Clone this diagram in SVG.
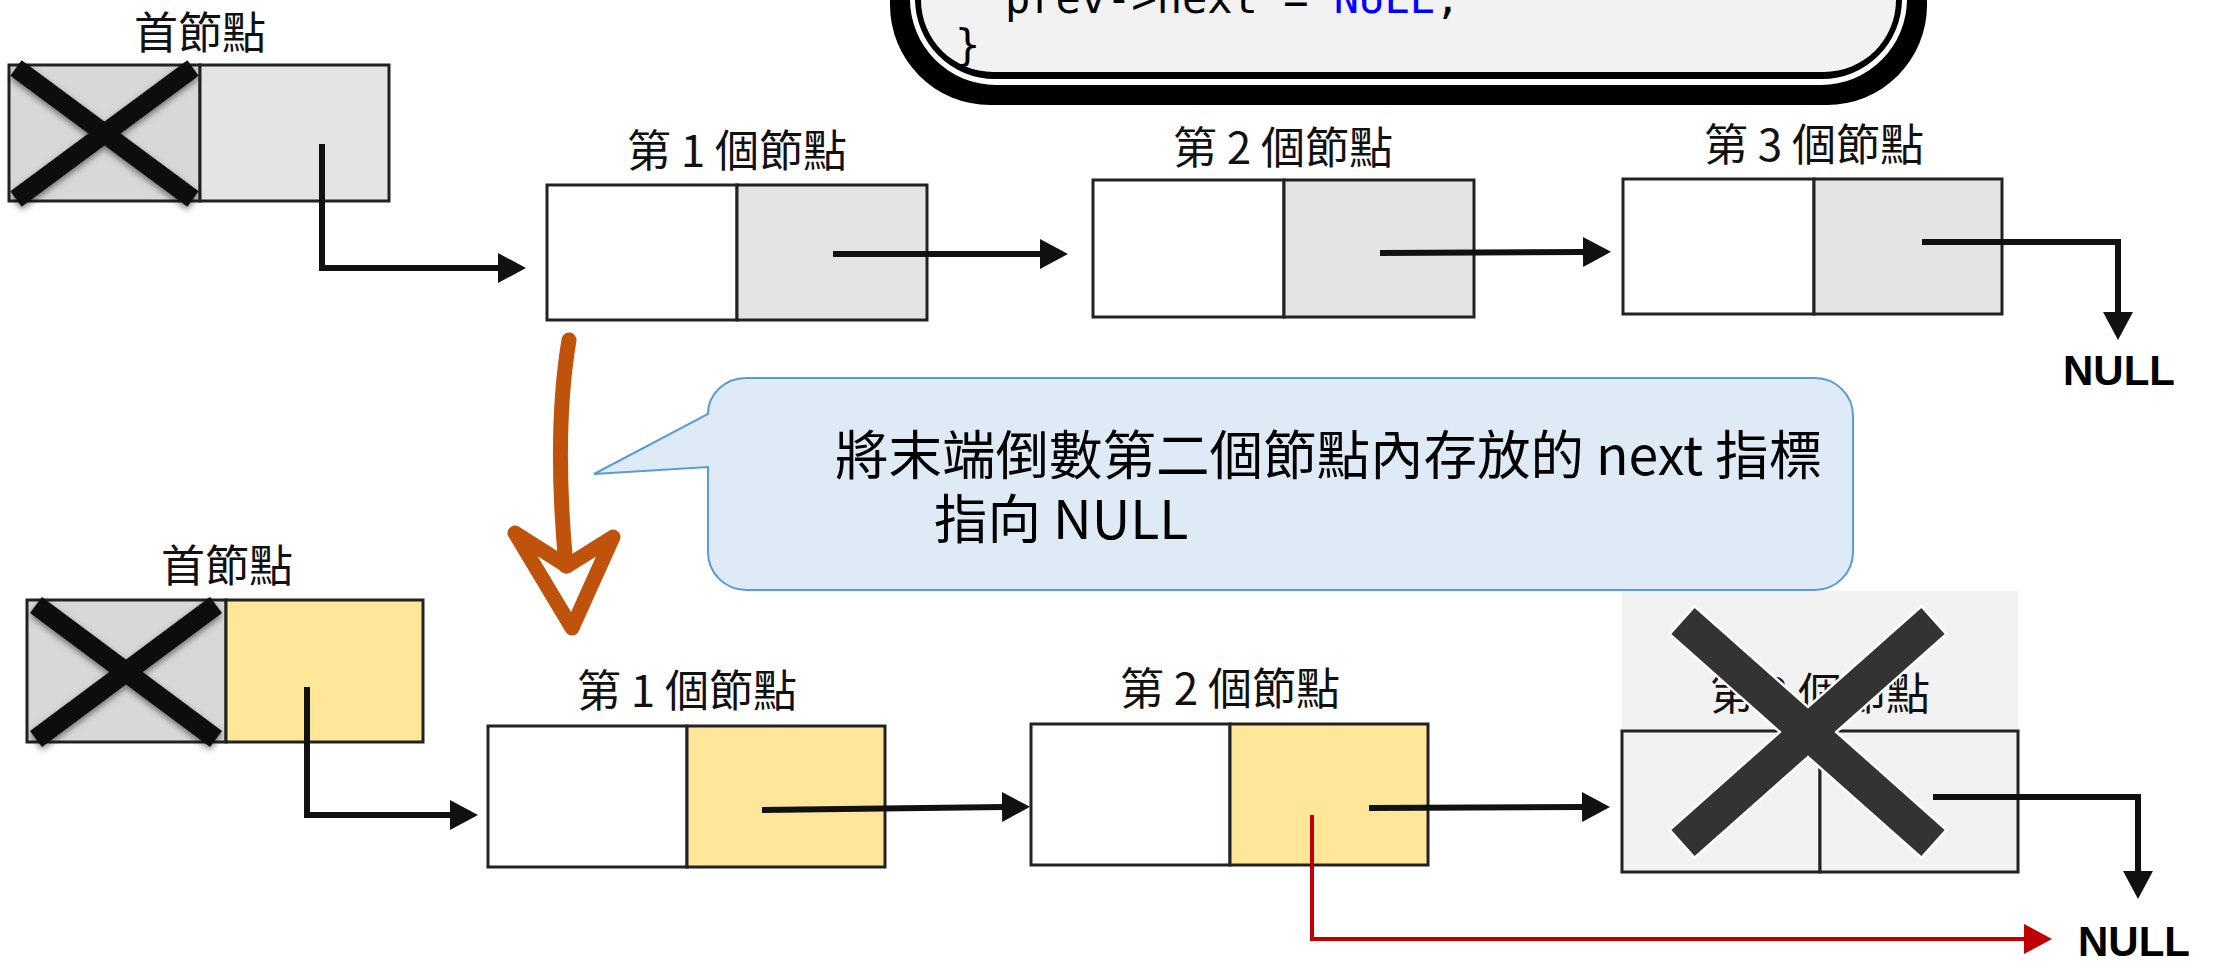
<svg xmlns="http://www.w3.org/2000/svg" width="2213" height="961" viewBox="0 0 2213 961">
<style>
.lbl{font-family:"Noto Sans CJK TC","Noto Sans CJK SC",sans-serif;font-size:44px;fill:#111;text-anchor:middle;dominant-baseline:central}
.cell{stroke:#222;stroke-width:3}
.w{fill:#fff}.g{fill:#E4E4E4}.gd{fill:#D8D8D8}.y{fill:#FFE699}.lg{fill:#F2F2F2}
.con{fill:none;stroke:#111;stroke-width:6}
.red{fill:none;stroke:#C00000;stroke-width:4}
.null{font-family:"Liberation Sans",Arial,sans-serif;font-weight:bold;font-size:42px;fill:#000;text-anchor:middle}
.code{font-family:"DejaVu Sans Mono",monospace;font-size:42px;fill:#000}
.bt{font-family:"Noto Sans CJK TC","Noto Sans CJK SC",sans-serif;font-size:53.5px;fill:#000;dominant-baseline:central}
</style>
<defs>
<marker id="ah" markerUnits="userSpaceOnUse" markerWidth="30" markerHeight="30" refX="2" refY="15" orient="auto" viewBox="0 0 30 30"><path d="M0,0 L28,15 L0,30 Z" fill="#111"/></marker>
<marker id="ahr" markerUnits="userSpaceOnUse" markerWidth="30" markerHeight="30" refX="2" refY="15" orient="auto" viewBox="0 0 30 30"><path d="M0,0 L28,15 L0,30 Z" fill="#C00000"/></marker>
<filter id="sh" x="-20%" y="-20%" width="140%" height="140%"><feDropShadow dx="0" dy="3" stdDeviation="3" flood-color="#000" flood-opacity="0.5"/></filter>
</defs>
<rect width="2213" height="961" fill="#fff"/>

<g id="code-box">
<rect x="890" y="-200" width="1037" height="305" rx="100" fill="#000"/>
<rect x="910" y="-200" width="997" height="285" rx="86" fill="#fff"/>
<rect x="915" y="-200" width="987" height="279" rx="80" fill="#000"/>
<rect x="921" y="-200" width="975" height="272" rx="72" fill="#F2F2F2"/>
<text class="code" x="1005" y="13" xml:space="preserve">prev-&gt;next = <tspan fill="#0000FF">NULL</tspan>;</text>
<text class="code" x="955" y="60">}</text>
</g>

<g id="top-head">
<text class="lbl" x="200" y="30">首節點</text>
<rect class="cell gd" x="9" y="65" width="191" height="136"/>
<rect class="cell g" x="200" y="65" width="189" height="136"/>
<g filter="url(#sh)" stroke="#111" stroke-width="19">
<line x1="16" y1="68" x2="193" y2="199"/>
<line x1="193" y1="68" x2="16" y2="199"/>
</g>
</g>

<g id="top-node1">
<text class="lbl" x="737" y="148">第 1 個節點</text>
<rect class="cell w" x="547" y="185" width="190" height="135"/>
<rect class="cell g" x="737" y="185" width="190" height="135"/>
</g>
<g id="top-node2">
<text class="lbl" x="1283" y="145">第 2 個節點</text>
<rect class="cell w" x="1093" y="180" width="191" height="137"/>
<rect class="cell g" x="1284" y="180" width="190" height="137"/>
</g>
<g id="top-node3">
<text class="lbl" x="1814" y="142">第 3 個節點</text>
<rect class="cell w" x="1623" y="179" width="191" height="135"/>
<rect class="cell g" x="1814" y="179" width="188" height="135"/>
</g>
<g id="top-null"><text class="null" x="2119" y="385">NULL</text></g>

<g id="bubble">
<path d="M746,378 H1815 A38,38 0 0 1 1853,416 V552 A38,38 0 0 1 1815,590 H746 A38,38 0 0 1 708,552 V467 L594,474 L708,414 A38,36 0 0 1 746,378 Z" fill="#DEEAF6" stroke="#5B9BD5" stroke-width="2"/>
<text class="bt" x="835" y="451">將末端倒數第二個節點內存放的 next 指標</text>
<text class="bt" x="934" y="515">指向 NULL</text>
</g>

<g id="orange-arrow" fill="none" stroke="#C0530C" stroke-width="15" stroke-linecap="round" stroke-linejoin="round">
<path d="M569,340 C559,400 557,470 566,566"/>
<path d="M515,533 L572,628 L613,537 L567,566 Z"/>
</g>

<g id="bottom-head">
<text class="lbl" x="227" y="563">首節點</text>
<rect class="cell gd" x="27" y="600" width="199" height="142"/>
<rect class="cell y" x="226" y="600" width="197" height="142"/>
<g filter="url(#sh)" stroke="#111" stroke-width="20">
<line x1="36" y1="605" x2="216" y2="739"/>
<line x1="216" y1="605" x2="36" y2="739"/>
</g>
</g>
<g id="bottom-node1">
<text class="lbl" x="687" y="688">第 1 個節點</text>
<rect class="cell w" x="488" y="726" width="199" height="141"/>
<rect class="cell y" x="687" y="726" width="198" height="141"/>
</g>
<g id="bottom-node2">
<text class="lbl" x="1230" y="686">第 2 個節點</text>
<rect class="cell w" x="1031" y="724" width="199" height="141"/>
<rect class="cell y" x="1230" y="724" width="198" height="141"/>
</g>
<g id="bottom-node3">
<rect x="1622" y="591" width="396" height="281" fill="#F2F2F2"/>
<text class="lbl" x="1820" y="691">第 3 個節點</text>
<rect class="cell lg" x="1622" y="731" width="198" height="141"/>
<rect class="cell lg" x="1820" y="731" width="198" height="141"/>
</g>
<g id="bottom-null"><text class="null" x="2134" y="956">NULL</text></g>

<g id="connectors">
<path class="con" stroke-width="5" d="M322,144 V268 H500" marker-end="url(#ah)"/>
<path class="con" d="M833,254 H1042" marker-end="url(#ah)"/>
<path class="con" d="M1380,253 L1585,252" marker-end="url(#ah)"/>
<path class="con" d="M1922,242 H2118 V314" marker-end="url(#ah)"/>
<path class="con" stroke-width="5" d="M307,687 V815 H452" marker-end="url(#ah)"/>
<path class="con" d="M762,810 L1004,807" marker-end="url(#ah)"/>
<path class="con" d="M1369,808 L1584,807" marker-end="url(#ah)"/>
<path class="con" d="M1933,797 H2138 V873" marker-end="url(#ah)"/>
<path class="red" d="M1312,815 V939 H2026" marker-end="url(#ahr)"/>
</g>

<g id="big-x">
<g stroke="#fff" stroke-width="40">
<line x1="1681" y1="619" x2="1935" y2="845"/>
<line x1="1935" y1="619" x2="1681" y2="845"/>
</g>
<g stroke="#333" stroke-width="35">
<line x1="1683" y1="621" x2="1933" y2="843"/>
<line x1="1933" y1="621" x2="1683" y2="843"/>
</g>
</g>
</svg>
